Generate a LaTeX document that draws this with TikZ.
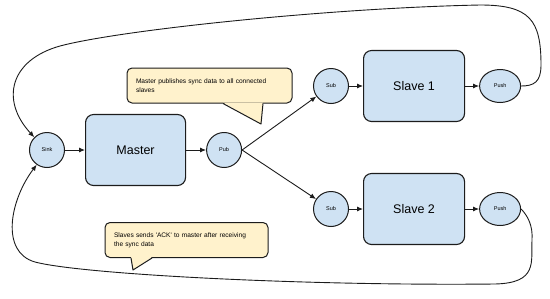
\documentclass[tikz,border=0pt]{standalone}
\usepackage{fontspec}
\setmainfont{Liberation Sans}
\usetikzlibrary{arrows.meta,positioning,shapes.geometric}

\definecolor{boxblue}{HTML}{CFE2F3}
\definecolor{notecream}{HTML}{FFF2CC}
\definecolor{ink}{HTML}{1C1C1C}

\begin{document}
\begin{tikzpicture}[
  x=1pt, y=-1pt,
  >={Latex[length=6pt,width=5pt]},
  node distance=20pt,
  port/.style={ellipse, draw=ink, line width=1pt, fill=boxblue, inner sep=0pt,
               minimum width=35pt, minimum height=35pt,
               font=\fontsize{5.5}{7}\selectfont},
  pushport/.style={port, minimum width=41pt, minimum height=33pt},
  block/.style={draw=ink, line width=1.1pt, rounded corners=8pt, fill=boxblue,
                minimum width=101pt, minimum height=71pt,
                font=\fontsize{12.5}{15}\selectfont},
  note/.style={draw=ink, line width=1pt, rounded corners=5pt,
               fill=notecream, align=left, inner xsep=9pt, minimum height=35pt,
               font=\fontsize{6.6}{9}\selectfont},
  tail/.style={draw=ink, line width=1pt, line join=round},
  link/.style={draw=ink, line width=0.9pt}
]
\useasboundingbox (0,0) rectangle (550,298);

% master side
\node[port] (sink) at (47,150) {Sink};
\node[block, minimum width=100pt, right=of sink] (master) {Master};
\node[port, right=of master] (pub) {Pub};

% slaves
\node[port] (sub1) at (331,86) {Sub};
\node[block, right=14pt of sub1] (slave1) {Slave 1};
\node[pushport, right=14pt of slave1] (push1) {Push};

\node[port] (sub2) at (331,209) {Sub};
\node[block, right=14pt of sub2] (slave2) {Slave 2};
\node[pushport, right=14pt of slave2] (push2) {Push};

\draw[link,->] (sink) -- (master);
\draw[link,->] (master) -- (pub);
\draw[link,->] (pub.east) -- (sub1);
\draw[link,->] (pub.east) -- (sub2);
\draw[link,->] (sub1) -- (slave1);
\draw[link,->] (slave1) -- (push1);
\draw[link,->] (sub2) -- (slave2);
\draw[link,->] (slave2) -- (push2);

% acks going back round to the sink
\draw[link,->] (push1.east) .. controls (534,86) and (541,82) .. (541,65)
  .. controls (541,20) and (530,5) .. (480,5)
  .. controls (330,8) and (120,30) .. (60,46)
  .. controls (10,60) and (0,100) .. (sink.135);
\draw[link,->] (push2.east) .. controls (528,216) and (533,226) .. (532,240)
  .. controls (531,262) and (538,283) .. (495,284)
  .. controls (300,286) and (80,274) .. (35,262)
  .. controls (0,252) and (10,200) .. (sink.235);

% notes, each with its tail
\node[note, minimum width=165pt, text width=147pt] (pubnote) at (209.5,85.5)
  {Master publishes sync data to all connected\\slaves};
\coordinate (pubtip) at (261,124);
\fill[notecream] ([xshift=13.5pt,yshift=1pt]pubnote.south) -- (pubtip)
  -- ([xshift=53.5pt,yshift=1pt]pubnote.south) -- cycle;
\draw[tail] ([xshift=13.5pt]pubnote.south) -- (pubtip) -- ([xshift=53.5pt]pubnote.south);

\node[note, minimum width=163pt, text width=145pt] (acknote) at (186.5,240)
  {Slaves sends \textquotesingle ACK\textquotesingle\ to master after receiving\\the sync data};
\coordinate (acktip) at (133,270);
\fill[notecream] ([xshift=-55.5pt,yshift=1pt]acknote.south) -- (acktip)
  -- ([xshift=-34.5pt,yshift=1pt]acknote.south) -- cycle;
\draw[tail] ([xshift=-55.5pt]acknote.south) -- (acktip) -- ([xshift=-34.5pt]acknote.south);
\end{tikzpicture}
\end{document}
